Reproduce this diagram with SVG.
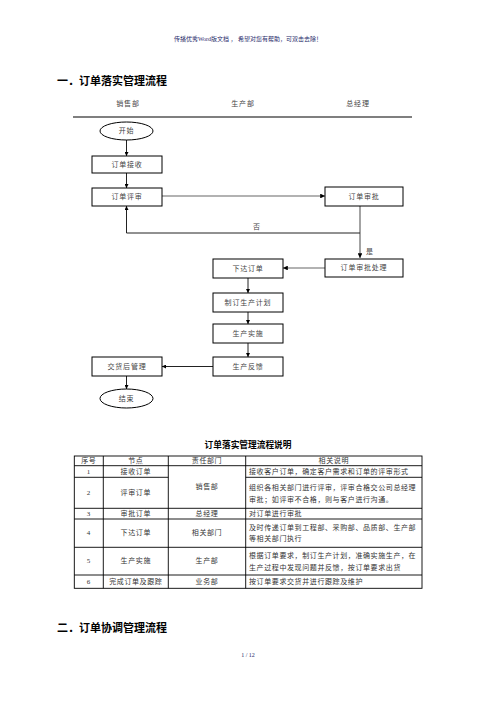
<svg xmlns="http://www.w3.org/2000/svg" width="496" height="702" viewBox="0 0 496 702">
<style>
text{font-family:"Liberation Serif","Noto Sans CJK SC",serif;}
.t{font-size:7px;fill:#444;text-anchor:middle;dominant-baseline:central;letter-spacing:0.8px;}
.h{font-size:11px;font-weight:bold;fill:#000;dominant-baseline:central;}
.c{font-size:7px;fill:#333;dominant-baseline:central;letter-spacing:0.6px;}
.cm{text-anchor:middle;}
.box{fill:#fff;stroke:#000;stroke-width:1;}
.ln{fill:none;stroke:#222;stroke-width:1;}
.lg{fill:none;stroke:#666;stroke-width:1.2;}
.tb{fill:none;stroke:#000;stroke-width:0.9;}
</style>
<defs>
<marker id="ar" viewBox="0 0 10 10" refX="10" refY="5" markerWidth="4" markerHeight="4" orient="auto" markerUnits="strokeWidth">
<path d="M0,0 L10,5 L0,10 z" fill="#000"/>
</marker>
</defs>
<rect width="496" height="702" fill="#fff"/>
<text x="248" y="39" font-size="6" fill="#1f2a6b" text-anchor="middle" dominant-baseline="central">传播优秀Word版文档 ， 希望对您有帮助，可双击去除！</text>
<text class="h" x="57" y="81">一．订单落实管理流程</text>
<g id="lanes">
<text class="t" x="128" y="104">销售部</text>
<text class="t" x="243" y="104">生产部</text>
<text class="t" x="358" y="104">总经理</text>
<line x1="73" y1="117" x2="412" y2="117" stroke="#000" stroke-width="1.2"/>
</g>
<g id="connectors">
<line class="ln" x1="126.5" y1="140" x2="126.5" y2="156" marker-end="url(#ar)"/>
<line class="ln" x1="126.5" y1="173" x2="126.5" y2="188" marker-end="url(#ar)"/>
<line class="lg" x1="162" y1="196" x2="325" y2="196" marker-end="url(#ar)"/>
<line class="lg" x1="360" y1="206" x2="360" y2="258" marker-end="url(#ar)"/>
<polyline class="ln" points="360,233 126.5,233 126.5,206" marker-end="url(#ar)"/>
<line class="lg" x1="325" y1="268" x2="283" y2="268" marker-end="url(#ar)"/>
<line class="ln" x1="248" y1="278" x2="248" y2="293" marker-end="url(#ar)"/>
<line class="ln" x1="248" y1="312" x2="248" y2="324" marker-end="url(#ar)"/>
<line class="ln" x1="248" y1="343" x2="248" y2="357" marker-end="url(#ar)"/>
<line class="ln" x1="213" y1="366.5" x2="162" y2="366.5" marker-end="url(#ar)"/>
<line class="ln" x1="126.5" y1="376" x2="126.5" y2="389" marker-end="url(#ar)"/>
<text class="t" x="257" y="227">否</text>
<text class="t" x="370" y="252">是</text>
</g>
<g id="start"><ellipse class="box" cx="126.5" cy="131" rx="26.5" ry="9"/><text class="t" x="126.5" y="131">开始</text></g>
<g id="receive"><rect class="box" x="92" y="156" width="70" height="17"/><text class="t" x="127" y="164.5">订单接收</text></g>
<g id="review"><rect class="box" x="92" y="188" width="70" height="18"/><text class="t" x="127" y="197">订单评审</text></g>
<g id="approve"><rect class="box" x="325" y="187" width="78" height="19"/><text class="t" x="364" y="196.5">订单审批</text></g>
<g id="approve-handle"><rect class="box" x="325" y="259" width="78" height="18"/><text class="t" x="364" y="268">订单审批处理</text></g>
<g id="issue"><rect class="box" x="213" y="259" width="70" height="19"/><text class="t" x="248" y="268.5">下达订单</text></g>
<g id="plan"><rect class="box" x="213" y="293" width="70" height="19"/><text class="t" x="248" y="302.5">制订生产计划</text></g>
<g id="produce"><rect class="box" x="213" y="324" width="70" height="19"/><text class="t" x="248" y="333.5">生产实施</text></g>
<g id="feedback"><rect class="box" x="213" y="357" width="70" height="19"/><text class="t" x="248" y="366.5">生产反馈</text></g>
<g id="after"><rect class="box" x="92" y="357" width="70" height="19"/><text class="t" x="127" y="366.5">交货后管理</text></g>
<g id="end"><ellipse class="box" cx="126.5" cy="398.5" rx="26.5" ry="9.5"/><text class="t" x="126.5" y="398.5">结束</text></g>
<text x="248" y="445" font-size="8.7" font-weight="bold" fill="#000" text-anchor="middle" dominant-baseline="central">订单落实管理流程说明</text>
<g id="table">
<rect class="tb" x="74.3" y="456" width="347.7" height="132.3"/>
<line class="tb" x1="74.3" y1="465.7" x2="422" y2="465.7"/>
<line class="tb" x1="74.3" y1="477.3" x2="168.3" y2="477.3"/>
<line class="tb" x1="245.7" y1="477.3" x2="422" y2="477.3"/>
<line class="tb" x1="74.3" y1="508.3" x2="422" y2="508.3"/>
<line class="tb" x1="74.3" y1="519" x2="422" y2="519"/>
<line class="tb" x1="74.3" y1="547.3" x2="422" y2="547.3"/>
<line class="tb" x1="74.3" y1="575" x2="422" y2="575"/>
<line class="tb" x1="103.3" y1="456" x2="103.3" y2="588.3"/>
<line class="tb" x1="168.3" y1="456" x2="168.3" y2="588.3"/>
<line class="tb" x1="245.7" y1="456" x2="245.7" y2="588.3"/>
<g class="c">
<text class="c cm" x="88.8" y="461">序号</text>
<text class="c cm" x="135.8" y="461">节点</text>
<text class="c cm" x="207" y="461">责任部门</text>
<text class="c cm" x="333.8" y="461">相关说明</text>
<text class="c cm" x="88.8" y="471.5">1</text>
<text class="c cm" x="135.8" y="471.5">接收订单</text>
<text class="c cm" x="207" y="487">销售部</text>
<text class="c" x="249" y="471.5">接收客户订单，确定客户需求和订单的评审形式</text>
<text class="c cm" x="88.8" y="493">2</text>
<text class="c cm" x="135.8" y="493">评审订单</text>
<text class="c" x="249" y="487.5">组织各相关部门进行评审，评审合格交公司总经理</text>
<text class="c" x="249" y="500">审批；如评审不合格，则与客户进行沟通。</text>
<text class="c cm" x="88.8" y="513.7">3</text>
<text class="c cm" x="135.8" y="513.7">审批订单</text>
<text class="c cm" x="207" y="513.7">总经理</text>
<text class="c" x="249" y="513.7">对订单进行审批</text>
<text class="c cm" x="88.8" y="533">4</text>
<text class="c cm" x="135.8" y="533">下达订单</text>
<text class="c cm" x="207" y="533">相关部门</text>
<text class="c" x="249" y="528">及时传递订单到工程部、采购部、品质部、生产部</text>
<text class="c" x="249" y="538.5">等相关部门执行</text>
<text class="c cm" x="88.8" y="561">5</text>
<text class="c cm" x="135.8" y="561">生产实施</text>
<text class="c cm" x="207" y="561">生产部</text>
<text class="c" x="249" y="556">根据订单要求，制订生产计划，准确实施生产，在</text>
<text class="c" x="249" y="567.5">生产过程中发现问题并反馈，按订单要求出货</text>
<text class="c cm" x="88.8" y="581.7">6</text>
<text class="c cm" x="135.8" y="581.7">完成订单及跟踪</text>
<text class="c cm" x="207" y="581.7">业务部</text>
<text class="c" x="249" y="581.7">按订单要求交货并进行跟踪及维护</text>
</g>
</g>
<text class="h" x="57" y="628">二．订单协调管理流程</text>
<text x="248" y="655" font-size="6" fill="#1f2a6b" text-anchor="middle" dominant-baseline="central">1 / 12</text>
</svg>
